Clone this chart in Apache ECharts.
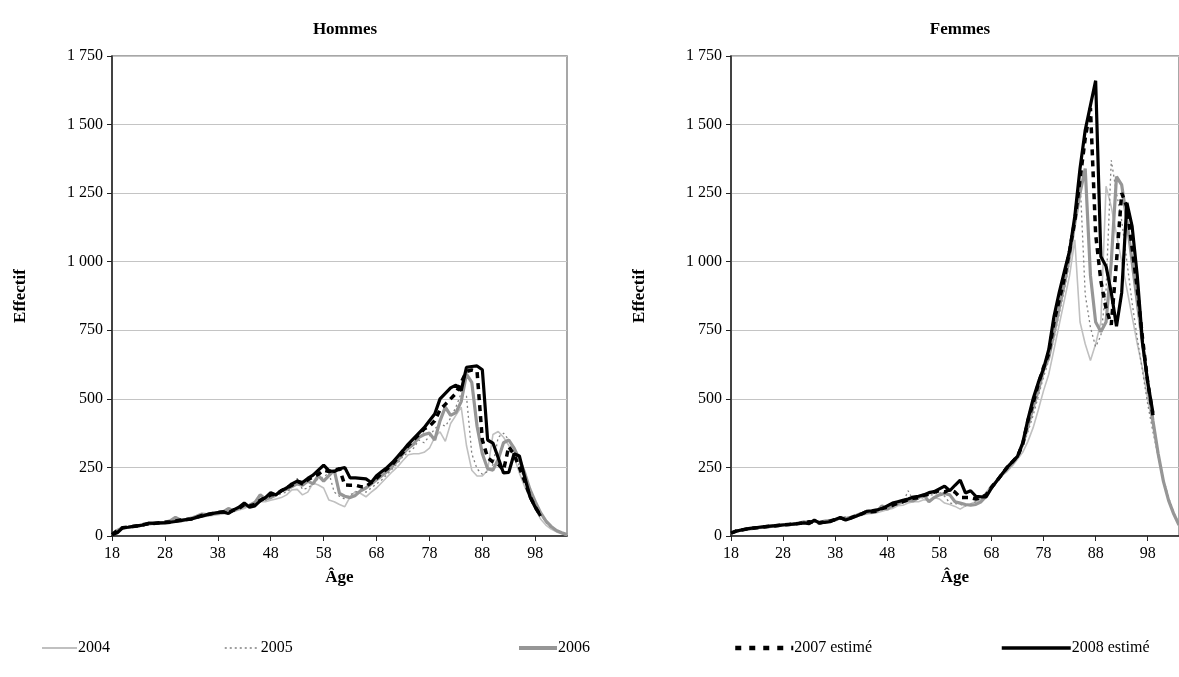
<!DOCTYPE html>
<html><head><meta charset="utf-8">
<script src="https://cdn.jsdelivr.net/npm/echarts@6/dist/echarts.min.js"></script>
<style>html,body{margin:0;padding:0;background:#fff;}#c{width:1179px;height:677px;}</style>
</head><body><div id="c"></div>
<script>
// Categories: age in years
const ages = ['18','19','20','21','22','23','24','25','26','27','28','29','30','31','32','33','34','35','36','37',
'38','39','40','41','42','43','44','45','46','47','48','49','50','51','52','53','54','55','56','57',
'58','59','60','61','62','63','64','65','66','67','68','69','70','71','72','73','74','75','76','77',
'78','79','80','81','82','83','84','85','86','87','88','89','90','91','92','93','94','95','96','97',
'98','99','100','101','102','103','104'];

const seriesNames = ['2004', '2005', '2006', '2007 estimé', '2008 estimé'];
const panelTitles = ['Hommes', 'Femmes'];
const yTicks = [0, 250, 500, 750, 1000, 1250, 1500, 1750];

// Hommes
const h2004 = [3,15,25,30,32,35,38,42,42,45, 46,50,55,52,55,60,65,70,72,75, 78,80,85,90,95,100,110,115,125,125,
 130,135,140,150,168,170,150,160,193,186, 175,131,125,115,107,143,162,155,143,160, 175,195,215,235,253,275,296,300,300,305,
 320,360,380,345,410,440,470,330,240,219, 219,240,370,381,360,330,290,230,180,140, 100,62,40,25,15,8,3];
const h2005 = [4,18,28,30,35,38,40,45,45,46, 48,52,60,55,58,62,70,82,75,80, 82,85,95,92,100,105,115,125,145,130,
 138,145,155,160,175,210,170,175,190,210, 215,230,160,145,135,150,160,165,160,175, 190,205,225,245,265,290,305,320,350,340,
 365,390,410,400,430,470,520,510,300,245, 225,235,260,360,375,350,310,255,205,160, 115,80,50,30,18,10,5];
const h2006 = [5,20,30,32,35,36,42,44,48,47, 50,55,68,58,60,65,72,80,78,82, 85,88,100,92,102,110,112,122,150,135,
 140,150,165,170,180,190,185,200,190,220, 200,220,240,155,145,140,148,165,175,190, 205,220,235,255,275,300,320,335,360,370,
 375,350,420,470,440,450,490,590,560,400, 300,245,240,280,340,350,320,280,230,170, 125,85,55,35,20,12,5];
const h2007 = [5,20,30,32,35,38,42,45,46,48, 50,52,55,58,60,62,68,75,78,82, 85,88,85,95,100,115,110,115,130,140,
 150,152,165,175,185,200,190,205,215,225, 240,235,240,245,186,185,185,180,180,195, 210,230,245,260,285,305,330,350,370,390,
 400,420,460,480,500,520,560,600,605,600, 350,285,270,262,240,326,296,250,200,145, 105,75,null,null,null,null,null];
const h2008 = [5,12,30,32,35,38,40,47,46,48, 48,50,53,56,60,62,68,72,78,82, 85,88,82,95,105,120,105,110,128,140,
 158,150,165,175,190,200,195,210,222,240, 258,238,235,245,250,212,212,210,208,195, 220,235,250,268,290,312,335,355,375,395,
 420,445,500,520,540,550,530,615,618,620, 606,350,339,285,230,232,300,292,215,143, 105,73,null,null,null,null,null];

// Femmes
const f2004 = [8,15,20,24,26,28,30,35,33,36, 40,42,40,44,48,50,52,48,50,55, 60,62,60,66,70,75,80,82,85,90,
 96,100,110,112,120,125,125,132,130,140, 135,120,115,108,98,110,118,125,135,160, 185,205,220,235,255,280,305,345,395,460,
 530,590,680,770,860,950,1080,780,700,640, 700,780,1275,1200,1100,1000,900,800,700,610, 500,400,300,200,130,80,40];
const f2005 = [8,16,20,24,28,30,32,34,36,38, 38,45,42,46,50,52,50,52,56,58, 62,64,70,70,72,78,88,90,92,100,
 110,105,115,120,165,130,135,140,150,150, 160,145,120,118,115,110,115,125,140,160, 185,205,225,240,260,285,325,380,440,510,
 580,640,720,810,900,1000,1150,1300,880,760, 690,730,900,1370,1250,1150,1000,850,720,600, 480,380,290,210,140,85,45];
const f2006 = [10,18,22,25,27,30,31,33,36,40, 42,40,45,46,52,48,55,50,54,56, 58,66,64,68,75,82,85,88,90,110,
 98,112,118,125,130,128,140,150,125,140, 150,155,150,125,120,115,112,115,125,145, 175,200,225,245,265,290,335,400,470,530,
 605,650,740,830,920,1020,1140,1250,1340,950, 780,745,780,1000,1310,1280,1150,1000,850,700, 560,420,300,200,130,80,40];
const f2007 = [10,18,22,25,28,30,32,35,36,38, 40,42,44,46,48,52,50,48,52,54, 60,66,60,66,74,80,88,88,90,100,
 105,112,120,125,132,138,140,148,152,160, 165,160,170,160,140,140,140,135,140,150, 178,200,225,250,270,290,335,420,485,555,
 615,665,780,860,940,1040,1150,1300,1450,1560, 1100,930,830,770,1000,1250,1200,1050,900,720, 560,440,null,null,null,null,null];
const f2008 = [11,18,22,26,29,31,33,35,37,38, 40,42,43,45,48,45,58,47,50,52, 60,67,58,65,72,80,90,92,95,100,
 110,120,125,130,135,142,145,150,158,162, 172,182,165,185,204,157,165,145,143,143, 175,200,225,250,270,290,340,425,500,560,
 610,680,800,887,965,1040,1166,1340,1480,1570, 1660,1019,983,887,765,887,1215,1129,946,704, 560,449,null,null,null,null,null];

const hommes = [h2004, h2005, h2006, h2007, h2008];
const femmes = [f2004, f2005, f2006, f2007, f2008];

const FONT = "'Liberation Serif', 'Times New Roman', serif";
const styles = [
  {color: '#c0c0c0', width: 1.6, type: 'solid', lw: 2, ltype: 'solid'},
  {color: '#808080', width: 1.3, type: [2, 3], lw: 1.5, ltype: [2, 3]},
  {color: '#969696', width: 3.2, type: 'solid', lw: 4, ltype: 'solid'},
  {color: '#000000', width: 3.5, type: [6, 5], lw: 4.5, ltype: [6, 8]},
  {color: '#000000', width: 3.2, type: 'solid', lw: 3.5, ltype: 'solid'}
];

function fmt(v) { return String(v).replace(/\B(?=(\d{3})+(?!\d))/g, ' '); }
const every10 = function (idx) { return idx % 10 === 0; };

const grids = [
  {left: 112, top: 56, width: 455, height: 480},
  {left: 731, top: 56, width: 458, height: 480}
].map(g => Object.assign(g, {show: true, borderColor: '#8a8a8a', borderWidth: 1.5, backgroundColor: 'transparent'}));

const xAxes = [0, 1].map(i => ({
  type: 'category', gridIndex: i, data: ages, boundaryGap: false,
  name: 'Âge', nameLocation: 'middle', nameGap: 33,
  nameTextStyle: {fontFamily: FONT, fontSize: 17, fontWeight: 'bold', color: '#000'},
  axisLine: {lineStyle: {color: '#222', width: 1.5}},
  axisTick: {show: true, interval: every10, length: 5, lineStyle: {color: '#222'}},
  axisLabel: {interval: every10, fontFamily: FONT, fontSize: 16, color: '#000', margin: 10},
  splitLine: {show: false}
}));

const yAxes = [0, 1].map(i => ({
  type: 'value', gridIndex: i, min: yTicks[0], max: yTicks[yTicks.length - 1], interval: 250,
  name: 'Effectif', nameLocation: 'middle', nameGap: 83, nameRotate: 90,
  nameTextStyle: {fontFamily: FONT, fontSize: 17, fontWeight: 'bold', color: '#000'},
  axisLine: {show: true, lineStyle: {color: '#222', width: 1.5}},
  axisTick: {show: true, length: 5, lineStyle: {color: '#222'}},
  axisLabel: {formatter: fmt, fontFamily: FONT, fontSize: 16, color: '#000', margin: 9},
  splitLine: {show: true, lineStyle: {color: '#c4c4c4', width: 1}}
}));

const series = [];
[hommes, femmes].forEach((panel, gi) => {
  panel.forEach((arr, si) => {
    series.push({
      name: seriesNames[si], type: 'line', xAxisIndex: gi, yAxisIndex: gi,
      data: arr, symbol: 'none', showSymbol: false, smooth: false, connectNulls: false,
      lineStyle: {color: styles[si].color, width: styles[si].width, type: styles[si].type, cap: 'butt', join: 'bevel'},
      itemStyle: {color: styles[si].color},
      emphasis: {disabled: true}, animation: false, z: 2 + si
    });
  });
});

const legendPos = [
  {left: 41, w: 35},
  {left: 224, w: 35},
  {left: 517, w: 38},
  {left: 733, w: 58},
  {left: 1000, w: 69}
];
const legends = seriesNames.map((n, i) => ({
  data: [n], left: legendPos[i].left, top: 640, padding: 0,
  itemWidth: legendPos[i].w, itemHeight: 14, itemGap: 4,
  selectedMode: false,
  itemStyle: {opacity: 0, borderWidth: 0},
  lineStyle: {width: styles[i].lw, type: styles[i].ltype, color: styles[i].color, cap: 'butt'},
  textStyle: {fontFamily: FONT, fontSize: 16, color: '#000', padding: [0, 0, 0, -4]}
}));

const chart = echarts.init(document.getElementById('c'), null, {renderer: 'canvas'});
chart.setOption({
  backgroundColor: '#fff',
  animation: false,
  title: panelTitles.map((t, i) => ({
    text: t, left: i === 0 ? 340 : 955, top: 16, textAlign: 'center',
    textStyle: {fontFamily: FONT, fontSize: 17, fontWeight: 'bold', color: '#000'}
  })),
  legend: legends,
  grid: grids,
  xAxis: xAxes,
  yAxis: yAxes,
  series: series
});
</script></body></html>
